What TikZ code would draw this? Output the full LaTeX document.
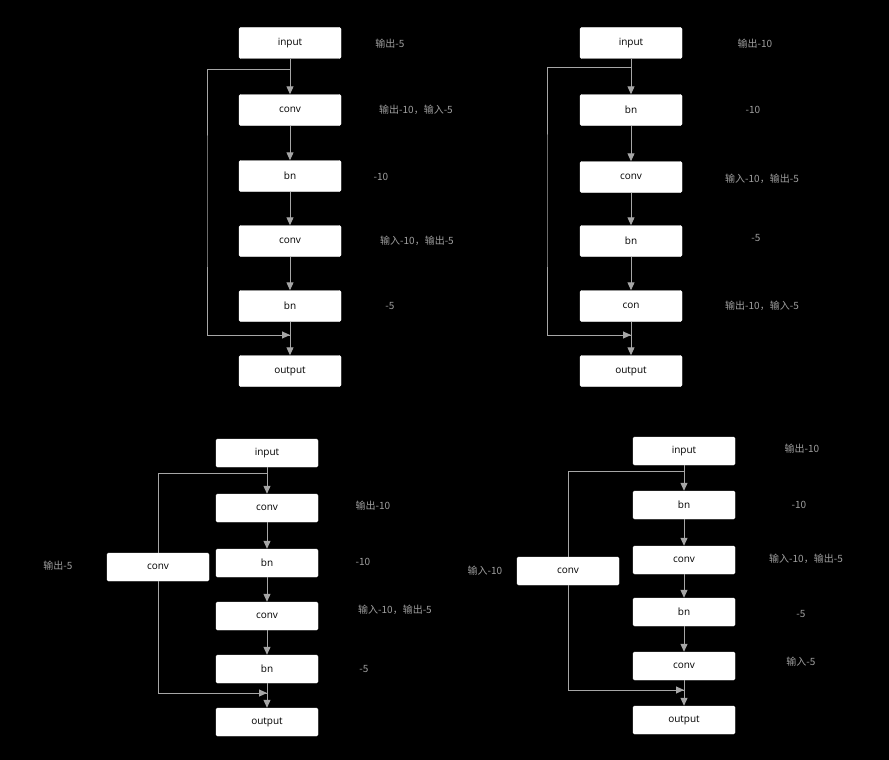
\documentclass[tikz,border=0pt]{standalone}
\usepackage{fontspec}
\setmainfont{Open Sans}
\newfontfamily\cjk{Noto Sans CJK SC}
\usetikzlibrary{arrows.meta}
\begin{document}
\begin{tikzpicture}[x=1pt,y=-1pt,
  box/.style={draw=white,fill=white,rounded corners=1.5pt,minimum width=102pt,minimum height=31pt,inner sep=0pt,font=\fontsize{10}{12}\selectfont,text=black},
  sbox/.style={box,minimum height=28pt},
  lab/.style={text=gray!75,font=\cjk\fontsize{10}{12}\selectfont},
  arr/.style={draw=gray!70,line width=1pt,-{Triangle[length=8pt,width=7pt]}},
  ln/.style={draw=gray!70,line width=1pt}]
\fill[black] (0,0) rectangle (889,760);
\useasboundingbox (0,0) rectangle (889,760);
% diagram 1
\node[box] (a1) at (290,43) {input};
\node[box] (a2) at (290,110) {conv};
\node[box] (a3) at (290,176) {bn};
\node[box] (a4) at (290,241) {conv};
\node[box] (a5) at (290,306) {bn};
\node[box] (a6) at (290,371) {output};
\foreach \i/\j in {a1/a2,a2/a3,a3/a4,a4/a5,a5/a6} \draw[arr] (\i) -- (\j);
\coordinate (as) at (290,70); \coordinate (ae) at (290,335);
\draw[ln] (as) -| (207,200) |- (ae);
\draw[arr] (270,335) -- (ae);
\node[lab] (la1) at (390,44) {输出-5};
\node[lab] (la2) at (416,110) {输出-10，输入-5};
\node[lab] (la3) at (381,177) {-10};
\node[lab] (la4) at (417,241) {输入-10，输出-5};
\node[lab] (la5) at (390,306) {-5};
% diagram 2
\node[box] (b1) at (631,43) {input};
\node[box] (b2) at (631,110) {bn};
\node[box] (b3) at (631,177) {conv};
\node[box] (b4) at (631,241) {bn};
\node[box] (b5) at (631,306) {con};
\node[box] (b6) at (631,371) {output};
\foreach \i/\j in {b1/b2,b2/b3,b3/b4,b4/b5,b5/b6} \draw[arr] (\i) -- (\j);
\coordinate (bs) at (631,68); \coordinate (be) at (631,335);
\draw[ln] (bs) -| (547,200) |- (be);
\draw[arr] (611,335) -- (be);
\node[lab] (lb1) at (755,44) {输出-10};
\node[lab] (lb2) at (753,110) {-10};
\node[lab] (lb3) at (762,179) {输入-10，输出-5};
\node[lab] (lb4) at (756,238) {-5};
\node[lab] (lb5) at (762,306) {输出-10，输入-5};
% diagram 3
\node[sbox] (c1) at (267,453) {input};
\node[sbox] (c2) at (267,508) {conv};
\node[sbox] (c3) at (267,563) {bn};
\node[sbox] (c4) at (267,616) {conv};
\node[sbox] (c5) at (267,669) {bn};
\node[sbox] (c6) at (267,722) {output};
\foreach \i/\j in {c1/c2,c2/c3,c3/c4,c4/c5,c5/c6} \draw[arr] (\i) -- (\j);
\node[sbox] (c7) at (158,567) {conv};
\coordinate (cs) at (267,473); \coordinate (ce) at (267,693);
\draw[ln] (cs) -| (c7.north);
\draw[ln] (c7.south) |- (ce);
\draw[arr] (247,693) -- (ce);
\node[lab] (lc0) at (58,566) {输出-5};
\node[lab] (lc1) at (373,506) {输出-10};
\node[lab] (lc2) at (363,562) {-10};
\node[lab] (lc3) at (395,610) {输入-10，输出-5};
\node[lab] (lc4) at (364,669) {-5};
% diagram 4
\node[sbox] (d1) at (684,451) {input};
\node[sbox] (d2) at (684,505) {bn};
\node[sbox] (d3) at (684,560) {conv};
\node[sbox] (d4) at (684,612) {bn};
\node[sbox] (d5) at (684,666) {conv};
\node[sbox] (d6) at (684,720) {output};
\foreach \i/\j in {d1/d2,d2/d3,d3/d4,d4/d5,d5/d6} \draw[arr] (\i) -- (\j);
\node[sbox] (d7) at (568,571) {conv};
\coordinate (ds) at (684,471); \coordinate (de) at (684,690);
\draw[ln] (ds) -| (d7.north);
\draw[ln] (d7.south) |- (de);
\draw[arr] (664,690) -- (de);
\node[lab] (ld0) at (485,571) {输入-10};
\node[lab] (ld1) at (802,449) {输出-10};
\node[lab] (ld2) at (799,505) {-10};
\node[lab] (ld3) at (806,559) {输入-10，输出-5};
\node[lab] (ld4) at (801,614) {-5};
\node[lab] (ld5) at (801,662) {输入-5};
\end{tikzpicture}
\end{document}
